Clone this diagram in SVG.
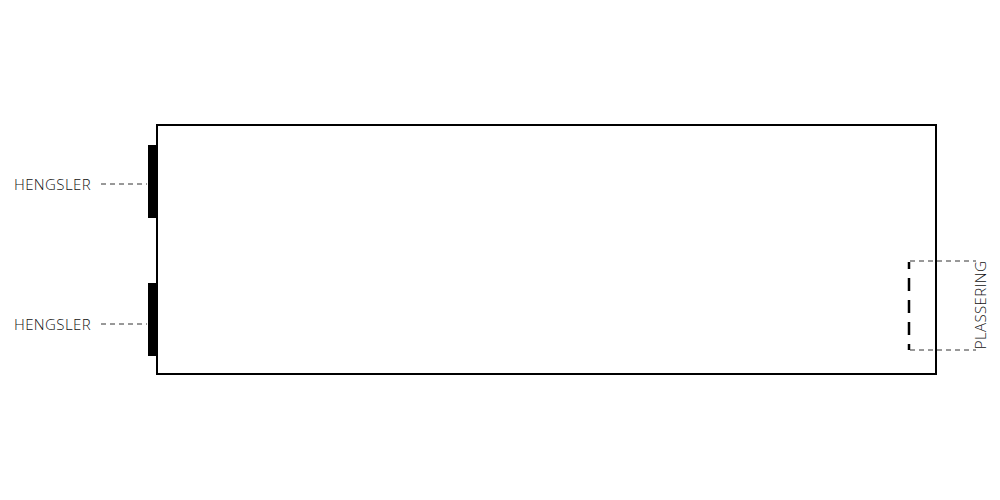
<svg xmlns="http://www.w3.org/2000/svg" width="1000" height="500" viewBox="0 0 1000 500">
<style>
.lbl{font-family:"Open Sans","Liberation Sans",sans-serif;font-weight:300;font-size:15px;letter-spacing:0.4px;fill:#111}
.thin{stroke:#333;stroke-width:1;stroke-dasharray:5 4;fill:none}
</style>
<rect width="1000" height="500" fill="#fff"/>
<g id="panel"><rect x="157" y="125" width="779" height="249" fill="none" stroke="#000" stroke-width="2"/></g>
<g id="hinge1"><rect x="148" y="145" width="8" height="73" fill="#000"/><text class="lbl" x="14" y="190">HENGSLER</text></g>
<g id="hinge2"><rect x="148" y="283" width="8" height="73" fill="#000"/><text class="lbl" x="14" y="330">HENGSLER</text></g>
<g id="plassering">
<line x1="909" y1="262" x2="909" y2="350" stroke="#000" stroke-width="2.5" stroke-dasharray="7 9 13 9 13 9 13 9 13"/>
<text class="lbl" transform="translate(986 305) rotate(-90)" text-anchor="middle">PLASSERING</text>
</g>
<g id="connectors">
<line class="thin" x1="101" y1="184" x2="147" y2="184"/>
<line class="thin" x1="101" y1="324" x2="147" y2="324"/>
<line class="thin" x1="910" y1="261" x2="976" y2="261"/>
<line class="thin" x1="910" y1="350" x2="976" y2="350"/>
</g>
</svg>
